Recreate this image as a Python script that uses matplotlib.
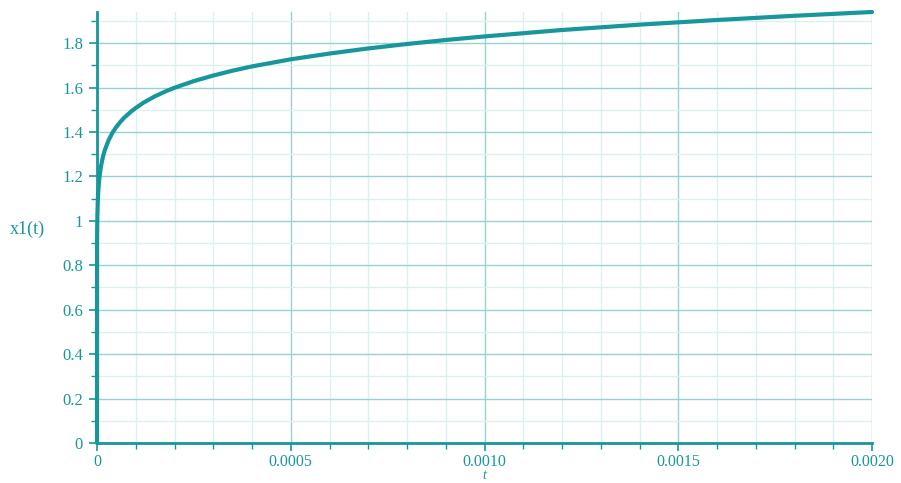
import matplotlib
matplotlib.use("Agg")
import matplotlib.pyplot as plt
from matplotlib.ticker import MultipleLocator

# data
t_vals = [0.0, 0.0000002, 0.0000005, 0.000001, 0.000002, 0.000003, 0.000005, 0.000007,
          0.00001, 0.000015, 0.00002, 0.00003, 0.00004, 0.00005, 0.00006, 0.00007,
          0.00009, 0.0001, 0.00012, 0.00015, 0.00018, 0.0002, 0.00025, 0.0003,
          0.00035, 0.0004, 0.0005, 0.0006, 0.0007, 0.0008, 0.0009, 0.001,
          0.0012, 0.0014, 0.0016, 0.0018, 0.002]
x1_vals = [0.0, 0.90, 0.97, 1.025, 1.086, 1.124, 1.173, 1.206,
           1.243, 1.286, 1.318, 1.363, 1.397, 1.423, 1.445, 1.464,
           1.495, 1.508, 1.532, 1.561, 1.585, 1.599, 1.629, 1.654,
           1.676, 1.695, 1.727, 1.753, 1.776, 1.796, 1.814, 1.830,
           1.859, 1.883, 1.904, 1.923, 1.940]

xticks = [0, 0.0005, 0.0010, 0.0015, 0.0020]
xtick_labels = ["0", "0.0005", "0.0010", "0.0015", "0.0020"]
yticks = [0, 0.2, 0.4, 0.6, 0.8, 1.0, 1.2, 1.4, 1.6, 1.8]
ytick_labels = ["0", "0.2", "0.4", "0.6", "0.8", "1", "1.2", "1.4", "1.6", "1.8"]

teal = "#17979c"
major_grid = "#96d2d5"
minor_grid = "#dcf0f1"

plt.rcParams['font.family'] = ['Liberation Serif', 'DejaVu Serif']

fig = plt.figure(figsize=(9.01, 4.83), dpi=100)
ax = fig.add_axes([97/901, 40/483, 775/901, 431/483])

ax.plot(t_vals, x1_vals, color=teal, lw=3.0, solid_capstyle='round',
        solid_joinstyle='round', zorder=5, clip_on=False)

ax.set_xlim(0, 0.002)
ax.set_ylim(0, 1.94)

ax.set_xticks(xticks)
ax.set_xticklabels(xtick_labels)
ax.set_yticks(yticks)
ax.set_yticklabels(ytick_labels)
ax.xaxis.set_minor_locator(MultipleLocator(0.0001))
ax.yaxis.set_minor_locator(MultipleLocator(0.1))

ax.grid(which='major', color=major_grid, lw=1.0, zorder=0)
ax.grid(which='minor', color=minor_grid, lw=1.0, zorder=0)
ax.set_axisbelow(True)

for s in ['top', 'right']:
    ax.spines[s].set_visible(False)
for s in ['left', 'bottom']:
    ax.spines[s].set_color(teal)
    ax.spines[s].set_linewidth(2.0)

ax.tick_params(which='major', colors=teal, length=6, width=1.2, labelsize=12, pad=4)
ax.tick_params(which='minor', colors=teal, length=4, width=1.0)
ax.tick_params(axis='x', pad=2, labelsize=11.5)

ax.set_xlabel("t", color=teal, fontsize=10, style='italic', va='center')
ax.xaxis.set_label_coords(0.5, -0.076)
ax.set_ylabel("x1(t)", color=teal, fontsize=13, rotation=0)
ax.yaxis.set_label_coords(-0.09, 0.475)

fig.savefig("out.png", dpi=100)
